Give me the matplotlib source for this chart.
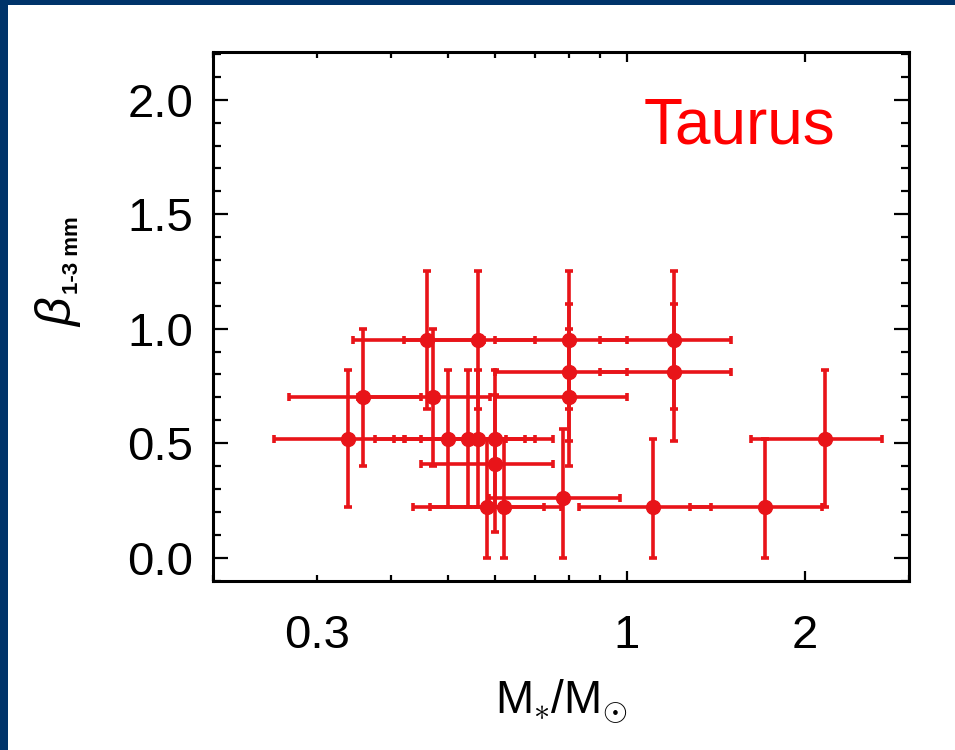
import numpy as np
import matplotlib
matplotlib.use('Agg')
import matplotlib.pyplot as plt
from matplotlib.patches import Rectangle
from matplotlib.ticker import FixedLocator, FixedFormatter, NullFormatter

plt.rcParams['font.family'] = ['Liberation Sans', 'DejaVu Sans']
plt.rcParams['mathtext.fontset'] = 'custom'
plt.rcParams['mathtext.rm'] = 'Liberation Sans'
plt.rcParams['mathtext.it'] = 'Liberation Sans:italic'
plt.rcParams['mathtext.bf'] = 'Liberation Sans:bold'

# stellar mass (M_sun) and beta_1-3mm for Taurus discs
mass = [0.338, 0.359, 0.46, 0.47, 0.50, 0.539, 0.56, 0.56, 0.60, 0.60, 0.581,
        0.621, 0.78, 0.80, 0.80, 0.80, 1.11, 1.20, 1.20, 1.71, 2.16]
beta = [0.52, 0.70, 0.95, 0.70, 0.52, 0.52, 0.52, 0.95, 0.52, 0.41, 0.22,
        0.22, 0.26, 0.95, 0.81, 0.70, 0.22, 0.95, 0.81, 0.22, 0.52]
mass_err = [0.084, 0.090, 0.115, 0.118, 0.125, 0.135, 0.14, 0.14, 0.15, 0.15, 0.145,
            0.155, 0.195, 0.20, 0.20, 0.20, 0.278, 0.30, 0.30, 0.428, 0.54]
beta_err_lo = [0.30, 0.30, 0.30, 0.30, 0.30, 0.30, 0.30, 0.30, 0.30, 0.30, 0.22,
               0.22, 0.26, 0.30, 0.30, 0.30, 0.22, 0.30, 0.30, 0.22, 0.30]
beta_err_hi = [0.30, 0.30, 0.30, 0.30, 0.30, 0.30, 0.30, 0.30, 0.30, 0.30, 0.30,
               0.30, 0.30, 0.30, 0.30, 0.30, 0.30, 0.30, 0.30, 0.30, 0.30]

red = '#e81419'

fig = plt.figure(figsize=(9.55, 7.5), dpi=100)
fig.patch.set_facecolor('white')
# dark blue slide border (top and left)
fig.add_artist(Rectangle((0, 1 - 5 / 750), 1, 5 / 750, transform=fig.transFigure,
                         facecolor='#00346a', edgecolor='none'))
fig.add_artist(Rectangle((0, 0), 8 / 955, 1, transform=fig.transFigure,
                         facecolor='#00346a', edgecolor='none'))

ax = fig.add_axes([213 / 955, 1 - 580.5 / 750, (909 - 213) / 955, (580.5 - 51.7) / 750])

ax.errorbar(mass, beta, xerr=mass_err, yerr=[beta_err_lo, beta_err_hi],
            fmt='o', color=red, ms=10, elinewidth=2.6, capsize=3.0, capthick=2.6,
            ecolor=red, mec=red, mfc=red)

ax.set_xscale('log')
ax.set_xlim(0.2, 3.0)
ax.set_ylim(-0.1, 2.21)

ax.xaxis.set_major_locator(FixedLocator([1, 2]))
ax.xaxis.set_major_formatter(FixedFormatter(['1', '2']))
minor_x = [0.2, 0.3, 0.4, 0.5, 0.6, 0.7, 0.8, 0.9, 3.0]
ax.xaxis.set_minor_locator(FixedLocator(minor_x))
ax.xaxis.set_minor_formatter(FixedFormatter(['', '0.3', '', '', '', '', '', '', '']))

ax.set_yticks([0.0, 0.5, 1.0, 1.5, 2.0])
ax.set_yticklabels(['0.0', '0.5', '1.0', '1.5', '2.0'])
ax.set_yticks(np.arange(-0.1, 2.25, 0.1), minor=True)
ax.yaxis.set_minor_formatter(NullFormatter())

for s in ax.spines.values():
    s.set_linewidth(2.2)

ax.tick_params(axis='both', which='both', direction='in', top=True, right=True,
               width=1.6, colors='black', labelsize=34)
ax.tick_params(axis='x', which='major', length=7.5, pad=24)
ax.tick_params(axis='x', which='minor', length=4, pad=24)
ax.tick_params(axis='y', which='major', length=11, pad=14)
ax.tick_params(axis='y', which='minor', length=5.5, pad=14)

ax.set_xlabel(r'M$_{\ast}$/M$_{\odot}$', fontsize=33, labelpad=14)

# y label: beta with bold subscript
fig.text(58 / 955, 1 - 312 / 750, r'$\beta$', rotation=90, fontsize=36,
         ha='center', va='center', family='DejaVu Sans', style='italic')
fig.text(72 / 955, 1 - 255 / 750, '1-3 mm', rotation=90, fontsize=16,
         fontweight='bold', ha='center', va='center')

ax.text(644 / 955, 1 - 144 / 750, 'Taurus', transform=fig.transFigure,
        color='#ff0000', fontsize=46, ha='left', va='baseline')

fig.savefig('out.png', dpi=100)
